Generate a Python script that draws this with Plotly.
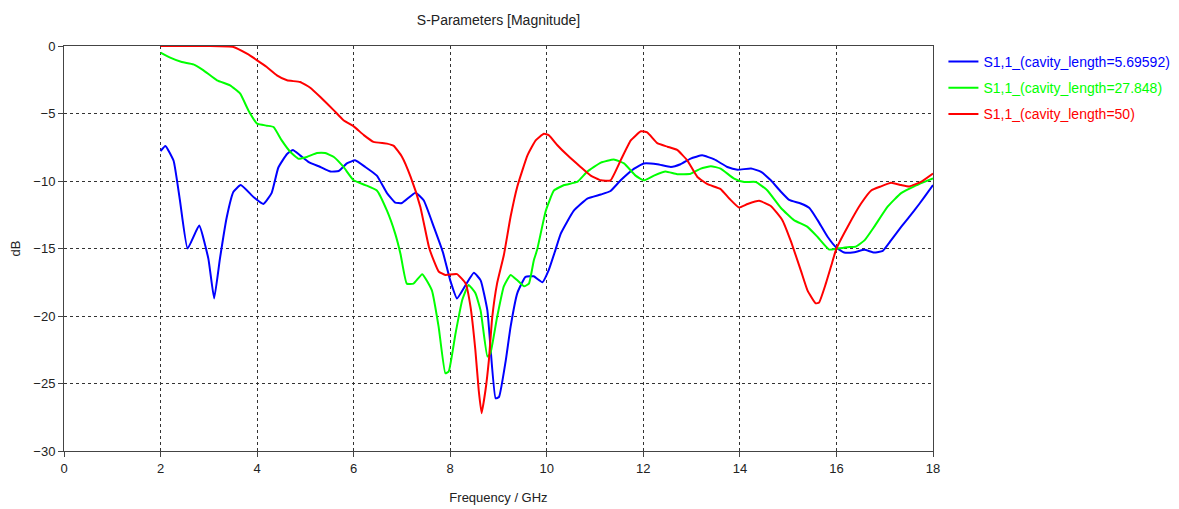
import plotly.graph_objects as go

# Blue: S1,1_(cavity_length=5.69592)
blue_f = [2.0, 2.1, 2.27, 2.4, 2.56, 2.8, 2.99, 3.11, 3.23, 3.37, 3.51, 3.66, 3.93, 4.13, 4.3, 4.44, 4.62, 4.74, 4.89,
          5.07, 5.31, 5.52, 5.69, 5.86, 6.03, 6.24, 6.48, 6.69, 6.86, 7.0, 7.28, 7.45, 7.66, 7.85, 8.0, 8.14, 8.32,
          8.49, 8.63, 8.77, 8.94, 9.01, 9.15, 9.25, 9.39, 9.56, 9.73, 9.91, 10.04, 10.18, 10.29, 10.56, 10.84, 11.12,
          11.32, 11.53, 11.81, 12.01, 12.29, 12.57, 12.77, 12.98, 13.22, 13.47, 13.74, 13.95, 14.23, 14.43, 14.64,
          14.85, 15.02, 15.26, 15.44, 15.61, 15.82, 15.99, 16.16, 16.37, 16.58, 16.78, 16.96, 17.13, 17.34, 17.61,
          17.82, 18.0]
blue_db = [-7.78, -7.4, -8.5, -11.4, -15.0, -13.3, -15.75, -18.7, -15.75, -12.7, -10.8, -10.3, -11.2, -11.7, -10.9,
           -9.0, -8.0, -7.7, -8.1, -8.6, -8.96, -9.3, -9.26, -8.7, -8.47, -8.96, -9.6, -10.9, -11.6, -11.63, -10.87,
           -11.43, -13.4, -15.3, -17.36, -18.7, -17.7, -16.8, -17.36, -19.6, -26.1, -26.0, -23.3, -20.8, -18.3, -17.1,
           -17.06, -17.5, -16.6, -15.1, -13.9, -12.2, -11.3, -11.0, -10.74, -9.95, -9.08, -8.7, -8.76, -8.96, -8.76,
           -8.34, -8.1, -8.4, -8.96, -9.16, -9.08, -9.3, -9.95, -10.8, -11.4, -11.67, -12.0, -12.9, -14.15, -14.9,
           -15.3, -15.28, -15.1, -15.3, -15.17, -14.4, -13.4, -12.2, -11.2, -10.3]

# Green: S1,1_(cavity_length=27.848)
green_f = [2.0, 2.2, 2.44, 2.68, 2.89, 3.17, 3.44, 3.65, 3.82, 4.0, 4.2, 4.34, 4.51, 4.69, 4.86, 5.03, 5.24, 5.41,
           5.59, 5.79, 6.0, 6.24, 6.48, 6.69, 6.86, 6.97, 7.1, 7.24, 7.42, 7.62, 7.76, 7.9, 7.97, 8.11, 8.25, 8.38,
           8.52, 8.63, 8.77, 8.83, 8.97, 9.11, 9.25, 9.39, 9.53, 9.63, 9.73, 9.8, 9.98, 10.15, 10.36, 10.63, 10.84,
           11.12, 11.39, 11.6, 11.84, 12.01, 12.22, 12.46, 12.7, 12.98, 13.19, 13.4, 13.6, 13.88, 14.09, 14.33, 14.57,
           14.85, 15.12, 15.4, 15.61, 15.85, 16.02, 16.23, 16.4, 16.58, 16.78, 17.06, 17.34, 17.61, 17.82, 18.0]
green_db = [-0.49, -0.86, -1.19, -1.36, -1.8, -2.54, -2.91, -3.53, -4.77, -5.75, -5.9, -6.0, -6.99, -7.85, -8.35,
            -8.22, -7.93, -7.93, -8.22, -8.96, -9.95, -10.3, -10.7, -12.2, -13.9, -15.4, -17.6, -17.6, -16.9, -18.1,
            -20.8, -24.25, -24.1, -21.3, -18.8, -17.7, -18.3, -19.6, -23.0, -22.8, -20.1, -17.8, -16.96, -17.36,
            -17.8, -17.6, -15.9, -15.1, -12.2, -10.7, -10.3, -10.07, -9.3, -8.64, -8.4, -8.7, -9.6, -9.95, -9.6, -9.3,
            -9.5, -9.46, -9.08, -8.9, -9.08, -9.82, -10.07, -10.07, -10.7, -12.0, -12.9, -13.4, -14.15, -15.08, -15.0,
            -14.9, -14.86, -14.4, -13.4, -11.9, -10.9, -10.4, -10.07, -9.8]

# Red: S1,1_(cavity_length=50)
red_f = [2.0, 2.54, 2.99, 3.51, 3.79, 4.0, 4.2, 4.41, 4.62, 4.89, 5.1, 5.31, 5.59, 5.79, 6.0, 6.21, 6.41, 6.69, 6.83,
         7.0, 7.18, 7.38, 7.56, 7.66, 7.76, 7.9, 8.14, 8.32, 8.42, 8.52, 8.59, 8.65, 8.73, 8.8, 8.87, 8.97, 9.11,
         9.25, 9.39, 9.6, 9.77, 9.94, 10.04, 10.22, 10.43, 10.7, 10.91, 11.12, 11.32, 11.53, 11.74, 11.95, 12.08,
         12.29, 12.5, 12.7, 12.91, 13.12, 13.33, 13.6, 13.78, 13.98, 14.16, 14.4, 14.64, 14.88, 15.05, 15.26, 15.4,
         15.57, 15.64, 15.78, 15.89, 16.0, 16.23, 16.51, 16.72, 16.92, 17.13, 17.34, 17.51, 17.75, 18.0]
red_db = [0.0, 0.0, 0.0, -0.07, -0.57, -1.06, -1.56, -2.17, -2.54, -2.67, -3.09, -3.78, -4.77, -5.5, -5.95, -6.6,
          -7.1, -7.23, -7.4, -8.2, -9.7, -11.9, -14.9, -15.9, -16.7, -16.96, -16.9, -17.6, -19.3, -22.5, -25.5,
          -27.2, -25.5, -23.3, -20.1, -17.6, -15.5, -12.65, -10.4, -8.1, -6.99, -6.5, -6.6, -7.35, -8.1, -8.96,
          -9.6, -9.95, -9.95, -8.47, -6.99, -6.32, -6.4, -7.2, -7.46, -7.7, -8.47, -9.7, -10.24, -10.6, -11.3,
          -11.96, -11.7, -11.47, -11.85, -12.9, -14.4, -16.6, -18.1, -19.06, -19.0, -17.6, -16.3, -15.0, -13.4,
          -11.67, -10.7, -10.4, -10.13, -10.3, -10.4, -10.07, -9.45]

names = ["S1,1_(cavity_length=5.69592)", "S1,1_(cavity_length=27.848)", "S1,1_(cavity_length=50)"]
colors = ["#0000FF", "#00FF00", "#FF0000"]

x_ticks = [0, 2, 4, 6, 8, 10, 12, 14, 16, 18]
y_ticks = [-30, -25, -20, -15, -10, -5, 0]

fig = go.Figure()
for i, (f, d, n, c) in enumerate([(blue_f, blue_db, names[0], colors[0]),
                                  (green_f, green_db, names[1], colors[1]),
                                  (red_f, red_db, names[2], colors[2])]):
    fig.add_trace(go.Scatter(
        x=f, y=d, mode="lines",
        name=f"<span style='color:{c}'>{n}</span>",
        legendgroup=f"g{i}",
        line=dict(color=c, width=2, shape="spline", smoothing=0.4),
    ))

FONT = "Liberation Sans, Arial, sans-serif"
axis_common = dict(
    showline=True, linecolor="#444", linewidth=1, mirror=True,
    showgrid=True, gridcolor="#333", griddash="3px,3px", gridwidth=1,
    zeroline=False, ticks="outside", ticklen=5, tickcolor="#444",
    tickfont=dict(family=FONT, size=13, color="#222"),
    automargin=False,
)

fig.update_layout(
    width=1179, height=509,
    margin=dict(l=56, r=247, t=38, b=66),
    paper_bgcolor="white", plot_bgcolor="white",
    title=dict(text="S-Parameters [Magnitude]", x=0.5, xref="paper", xanchor="center",
               y=1 - 12 / 509, yref="container", yanchor="middle", automargin=False,
               font=dict(family=FONT, size=14, color="#222")),
    xaxis=dict(range=[0, 18], tickvals=x_ticks, title=dict(text="Frequency / GHz", standoff=18,
               font=dict(family=FONT, size=13, color="#222")), **axis_common),
    yaxis=dict(range=[-30, 0], tickvals=y_ticks, title=dict(text="dB", standoff=12,
               font=dict(family=FONT, size=13, color="#222")), **axis_common),
    legend=dict(x=1.012, y=1.0, xanchor="left", yanchor="top",
                font=dict(family=FONT, size=14), bgcolor="rgba(0,0,0,0)",
                tracegroupgap=5, itemwidth=30),
    showlegend=True,
)

fig.write_html("out.html")
